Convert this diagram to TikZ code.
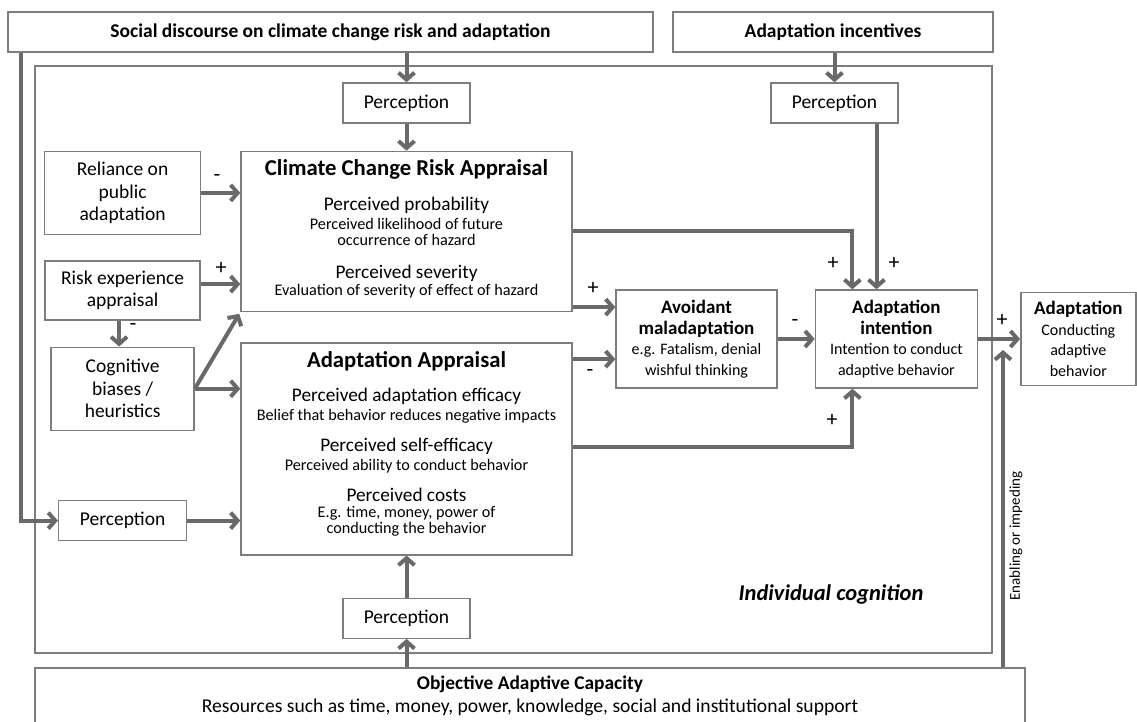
\documentclass[tikz,border=0pt]{standalone}
\usepackage{fontspec}
\setmainfont{Carlito}
\usetikzlibrary{positioning,calc,arrows.meta}

\definecolor{boxgray}{RGB}{125,125,125}
\definecolor{linkgray}{RGB}{105,105,105}

\newcommand{\boldln}[1]{{\bfseries\fontsize{19}{20.5}\selectfont #1}}

\tikzset{
  box/.style={draw=boxgray, line width=1.4pt, inner sep=0pt, align=center,
    font=\fontsize{19.5}{22.5}\selectfont},
  perc/.style={box, minimum width=127pt, minimum height=40pt},
  smallbox/.style={box, font=\fontsize{16}{20.5}\selectfont},
  ttl/.style={anchor=mid, inner sep=0pt, font=\bfseries\fontsize{22.7}{26}\selectfont},
  hd/.style={anchor=mid, inner sep=0pt, font=\fontsize{19.3}{22}\selectfont},
  dtl/.style={anchor=mid, inner sep=0pt, font=\fontsize{16.2}{19}\selectfont},
  sgn/.style={inner sep=0pt, font=\fontsize{22}{22}\selectfont},
  link/.style={draw=linkgray, line width=4pt, -{Straight Barb[length=7pt,width=16pt]}},
}

\begin{document}
\begin{tikzpicture}[x=1pt,y=-1pt]
  \useasboundingbox (0,0) rectangle (1137,722);
  \clip (0,0) rectangle (1137,722);

  \node[box, minimum width=957pt, minimum height=587pt] (ind) at (513.5,359.5) {};
  \node[box, minimum width=990pt, minimum height=72pt] (obj) at (530,704) {};
  \node[anchor=mid, inner sep=0pt, font=\bfseries\fontsize{19.4}{22}\selectfont] (obj1) at ($(obj.north)+(0,20)$) {Objective Adaptive Capacity};
  \node[anchor=mid, inner sep=0pt, font=\fontsize{19.6}{22}\selectfont] (obj2) at ($(obj.north)+(0,43)$) {Resources such as time, money, power, knowledge, social and institutional support};

  \node[box, font=\bfseries\fontsize{19.5}{22}\selectfont, minimum width=645pt, minimum height=40pt] (soc) at (330.5,32) {Social discourse on climate change risk and adaptation};
  \node[box, font=\bfseries\fontsize{19.5}{22}\selectfont, minimum width=320pt, minimum height=40pt] (inc) at (833,32) {Adaptation incentives};

  \node[perc] (pc1) at (406.5,103) {Perception};
  \node[perc] (pc2) at (834.5,103) {Perception};

  \node[box, minimum width=331pt, minimum height=160pt, below=27pt of pc1] (ccra) {};
  \node[box, minimum width=331pt, minimum height=212pt, below=30pt of ccra] (aa) {};
  \node[perc, below=42pt of aa] (pc3) {Perception};

  \node[box, minimum width=156pt, minimum height=83pt, below left=0pt and 39pt of ccra.north west] (rel) {Reliance on\\public\\adaptation};
  \node[box, minimum width=155pt, minimum height=59pt, below=25pt of rel] (rex) {Risk experience\\appraisal};
  \node[box, minimum width=143pt, minimum height=83pt, below=26pt of rex] (cog) {Cognitive\\biases /\\heuristics};
  \node[perc, minimum width=128pt, below=69pt of cog] (pcl) {Perception};

  \node[smallbox, minimum width=161pt, minimum height=98pt] (avoid) at (696.5,339) {\boldln{Avoidant}\\\boldln{maladaptation}\\e.g. Fatalism, denial\\wishful thinking};
  \node[smallbox, minimum width=162pt, minimum height=98pt, right=37pt of avoid] (int) {\boldln{Adaptation}\\\boldln{intention}\\Intention to conduct\\adaptive behavior};
  \node[smallbox, minimum width=115pt, minimum height=93pt, right=42pt of int] (adp) {\boldln{Adaptation}\\Conducting\\adaptive\\behavior};

  \node[ttl] (cc0) at ($(ccra.north)+(0,22)$) {Climate Change Risk Appraisal};
  \node[hd] (cc1) at ($(ccra.north)+(0,57)$) {Perceived probability};
  \node[dtl] (cc2) at ($(ccra.north)+(0,76)$) {Perceived likelihood of future};
  \node[dtl] (cc3) at ($(ccra.north)+(0,92)$) {occurrence of hazard};
  \node[hd] (cc4) at ($(ccra.north)+(0,125)$) {Perceived severity};
  \node[dtl] (cc5) at ($(ccra.north)+(0,142)$) {Evaluation of severity of effect of hazard};

  \node[ttl] (aa0) at ($(aa.north)+(0,23)$) {Adaptation Appraisal};
  \node[hd] (aa1) at ($(aa.north)+(0,57)$) {Perceived adaptation efficacy};
  \node[dtl] (aa2) at ($(aa.north)+(0,76)$) {Belief that behavior reduces negative impacts};
  \node[hd] (aa3) at ($(aa.north)+(0,107)$) {Perceived self-efficacy};
  \node[dtl] (aa4) at ($(aa.north)+(0,126)$) {Perceived ability to conduct behavior};
  \node[hd] (aa5) at ($(aa.north)+(0,157)$) {Perceived costs};
  \node[dtl] (aa6) at ($(aa.north)+(0,173)$) {E.g. time, money, power of};
  \node[dtl] (aa7) at ($(aa.north)+(0,189)$) {conducting the behavior};

  \node[anchor=mid, inner sep=0pt, font=\bfseries\itshape\fontsize{22.5}{26}\selectfont] (icog) at (831,598) {Individual cognition};
  \node[rotate=90, inner sep=0pt, font=\fontsize{15}{18}\selectfont] (enab) at (1016,536) {Enabling or impeding};

  \coordinate (en) at (1003,350);

  \draw[link] (soc.south -| pc1) -- (pc1.north);
  \draw[link] (pc1.south) -- (pc1.south |- ccra.north);
  \draw[link] (inc.south -| pc2) -- (pc2.north);
  \draw[link] ([xshift=42pt]pc2.south) -- ([xshift=42pt]pc2.south |- int.north);
  \draw[link] (ccra.east) -| ([xshift=-44pt]int.north);
  \draw[link] ([yshift=5pt]ccra.south east) -- ([yshift=5pt]ccra.south east -| avoid.west);
  \draw[link] ([yshift=-17pt]aa.north east) -- ([yshift=-17pt]aa.north east -| avoid.west);
  \draw[link] (avoid) -- (int);
  \draw[link] ([yshift=-105pt]aa.north east) -| ([xshift=-44pt]int.south);
  \draw[link] (int) -- (adp);
  \draw[link] (obj.north -| en) -- (en);

  \draw[link] (rel) -- (rel -| ccra.west);
  \draw[link] ([yshift=-24pt]rex.north east) -- ([yshift=-24pt]rex.north east -| ccra.west);
  \draw[link] ([xshift=-3.5pt]rex.south) -- ([xshift=-3.5pt]rex.south |- cog.north);
  \draw[link, shorten >=2pt] (cog.east) -- (ccra.south west);
  \draw[link] (cog.east) -- (cog.east -| aa.west);
  \draw[link] ([xshift=14pt]soc.south west) |- (pcl.west);
  \draw[link] (pcl) -- (pcl -| aa.west);
  \draw[link] (obj.north -| pc3) -- (pc3);
  \draw[link] (pc3) -- (pc3 |- aa.south);

  \node[sgn] (s1) at (217,178) {-};
  \node[sgn] (s2) at (221,268) {+};
  \node[sgn] (s3) at (133,327) {-};
  \node[sgn] (s4) at (593,288) {+};
  \node[sgn] (s5) at (590,373) {-};
  \node[sgn] (s6) at (795,323) {-};
  \node[sgn] (s7) at (833,263) {+};
  \node[sgn] (s8) at (894,263) {+};
  \node[sgn] (s9) at (832,420) {+};
  \node[sgn] (s10) at (1002,320) {+};
\end{tikzpicture}
\end{document}
